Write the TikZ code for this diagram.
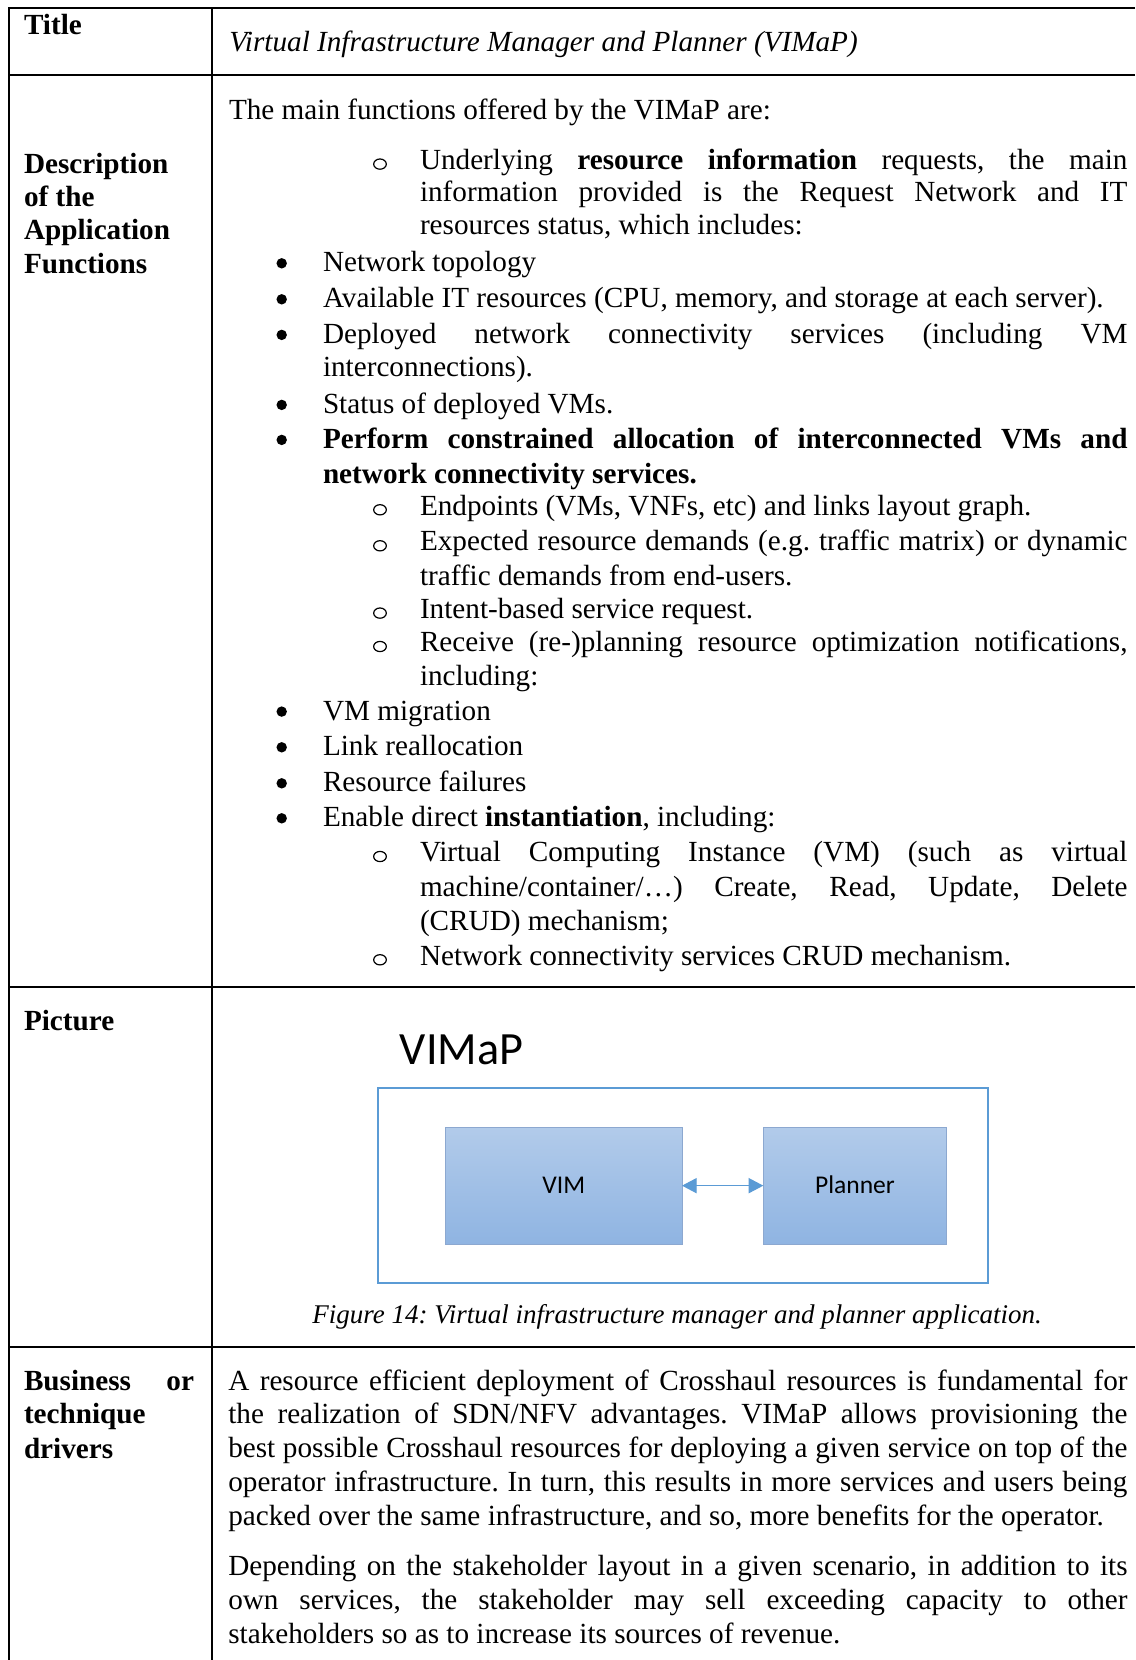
\documentclass[tikz,border=0pt]{standalone}
\usepackage{fontspec}
\setmainfont{Liberation Serif}
\newfontfamily\diagfont{Carlito}
\usetikzlibrary{arrows.meta}
\frenchspacing
\newlength\pxlen
\setlength\pxlen{0.411pt}
\definecolor{frameblue}{RGB}{91,155,213}
\definecolor{boxtop}{RGB}{178,203,234}
\definecolor{boxbottom}{RGB}{143,180,226}
\definecolor{boxedge}{RGB}{140,168,208}
% a line of justified text, stretched to #1 px
\newcommand\jline[2]{\makebox[#1\pxlen][s]{#2}}
% list markers: filled bullet and hollow ring, placed from a baseline
\newcommand\bulA[1]{\fill (281.7,#1-8.4) circle[radius=2.14pt];}
\newcommand\bulB[1]{\draw[ring] (380,#1-5.2) ellipse[x radius=2.6pt,y radius=2.1pt];}

\begin{document}
\begin{tikzpicture}[x=0.411pt,y=-0.411pt,
  txt/.style={anchor=base west,inner sep=0pt,outer sep=0pt,font=\fontsize{12}{14}\selectfont},
  btxt/.style={txt,font=\fontsize{12}{14}\selectfont\bfseries},
  itxt/.style={txt,font=\fontsize{12}{14}\selectfont\itshape},
  rule/.style={line width=0.8pt,black},
  ring/.style={draw=black,line width=0.5pt},
  appbox/.style={draw=boxedge,line width=0.4pt,top color=boxtop,bottom color=boxbottom,
    minimum height=117.3\pxlen,inner sep=0pt,outer sep=0pt,text height=6.8pt,text depth=0pt,
    font=\diagfont\fontsize{10.5}{12}\selectfont},
  link/.style={frameblue,line width=0.5pt,{Triangle[length=6pt,width=6.2pt]}-{Triangle[length=6pt,width=6.2pt]}}
]
\useasboundingbox (0,0) rectangle (1135,1660);
\fill[white] (0,0) rectangle (1135,1660);

% table rules
\draw[rule] (1135,8) -- (9,8) -- (9,1660);
\draw[rule] (212,8) -- (212,1660);
\draw[rule] (9,75) -- (1135,75);
\draw[rule] (9,987) -- (1135,987);
\draw[rule] (9,1347) -- (1135,1347);

% row headings
\node[btxt] (hTitle) at (24,35) {Title};
\node[btxt] (hDesc1) at (24,173.3) {Description};
\node[btxt] (hDesc2) at (24,206.7) {of the};
\node[btxt] (hDesc3) at (24,240) {Application};
\node[btxt] (hDesc4) at (24,274) {Functions};
\node[btxt] (hPic) at (24,1030) {Picture};
\node[btxt] (hBus1) at (24,1390) {\jline{170}{Business or}};
\node[btxt] (hBus2) at (24,1423.3) {technique};
\node[btxt] (hBus3) at (24,1458) {drivers};

% title
\node[itxt] (title) at (229.3,51.7) {Virtual Infrastructure Manager and Planner (VIMaP)};

% description of the functions
\node[txt] (d0) at (229,119.3) {The main functions offered by the VIMaP are:};
\node[txt] (d1) at (420,169.3) {\jline{707.5}{Underlying \textbf{resource information} requests, the main}};
\node[txt] (d2) at (420,201.7) {\jline{707.5}{information provided is the Request Network and IT}};
\node[txt] (d3) at (420,235) {resources status, which includes:};
\node[txt] (d4) at (323,271.7) {Network topology};
\node[txt] (d5) at (323,307.7) {Available IT resources (CPU, memory, and storage at each server).};
\node[txt] (d6) at (323,343.3) {\jline{804.5}{Deployed network connectivity services (including VM}};
\node[txt] (d7) at (323,376.7) {interconnections).};
\node[txt] (d8) at (323,413.3) {Status of deployed VMs.};
\node[btxt] (d9) at (323,448.3) {\jline{804.5}{Perform constrained allocation of interconnected VMs and}};
\node[btxt] (d10) at (323,483.3) {network connectivity services.};
\node[txt] (d11) at (420,515) {Endpoints (VMs, VNFs, etc) and links layout graph.};
\node[txt] (d12) at (420,551) {\jline{707.5}{Expected resource demands (e.g. traffic matrix) or dynamic}};
\node[txt] (d13) at (420,585) {traffic demands from end-users.};
\node[txt] (d14) at (420,618.3) {Intent-based service request.};
\node[txt] (d15) at (420,651.7) {\jline{707.5}{Receive (re-)planning resource optimization notifications,}};
\node[txt] (d16) at (420,685) {including:};
\node[txt] (d17) at (323,720) {VM migration};
\node[txt] (d18) at (323,755.7) {Link reallocation};
\node[txt] (d19) at (323,791.7) {Resource failures};
\node[txt] (d20) at (323,826.7) {Enable direct \textbf{instantiation}, including:};
\node[txt] (d21) at (420,861.7) {\jline{707.5}{Virtual Computing Instance (VM) (such as virtual}};
\node[txt] (d22) at (420,896) {\jline{707.5}{machine/container/…) Create, Read, Update, Delete}};
\node[txt] (d23) at (420,930) {(CRUD) mechanism;};
\node[txt] (d24) at (420,965) {Network connectivity services CRUD mechanism.};

% list markers
\foreach \b in {271.7,307.7,343.3,413.3,448.3,720,755.7,791.7,826.7} {\bulA{\b}}
\foreach \b in {169.3,515,551,618.3,651.7,861.7,965} {\bulB{\b}}

% picture
\node[anchor=base west,inner sep=0pt,font=\diagfont\fontsize{19}{22}\selectfont] (vimap) at (399.3,1064) {VIMaP};
\node[draw=frameblue,line width=0.8pt,minimum width=609.6\pxlen,minimum height=195.6\pxlen,inner sep=0pt] (frame) at (683.1,1185.5) {};
\node[appbox,minimum width=236.3\pxlen] (vim) at (563.85,1185.65) {VIM};
\node[appbox,minimum width=183.3\pxlen] (planner) at (854.95,1185.65) {Planner};
\draw[link] (vim.east) -- (planner.west);
\node[anchor=base,inner sep=0pt,font=\fontsize{11.1}{13}\selectfont\itshape] (caption) at (677.1,1323.3)
  {Figure 14: Virtual infrastructure manager and planner application.};

% business drivers
\node[txt] (b1) at (228.3,1390) {\jline{899.2}{A resource efficient deployment of Crosshaul resources is fundamental for}};
\node[txt] (b2) at (228.3,1423.3) {\jline{899.2}{the realization of SDN/NFV advantages. VIMaP allows provisioning the}};
\node[txt] (b3) at (228.3,1457.3) {\jline{899.2}{best possible Crosshaul resources for deploying a given service on top of the}};
\node[txt] (b4) at (228.3,1491.7) {\jline{899.2}{operator infrastructure. In turn, this results in more services and users being}};
\node[txt] (b5) at (228.3,1525) {packed over the same infrastructure, and so, more benefits for the operator.};
\node[txt] (b6) at (228.3,1575) {\jline{899.2}{Depending on the stakeholder layout in a given scenario, in addition to its}};
\node[txt] (b7) at (228.3,1609.3) {\jline{899.2}{own services, the stakeholder may sell exceeding capacity to other}};
\node[txt] (b8) at (228.3,1643.3) {stakeholders so as to increase its sources of revenue.};
\end{tikzpicture}
\end{document}
